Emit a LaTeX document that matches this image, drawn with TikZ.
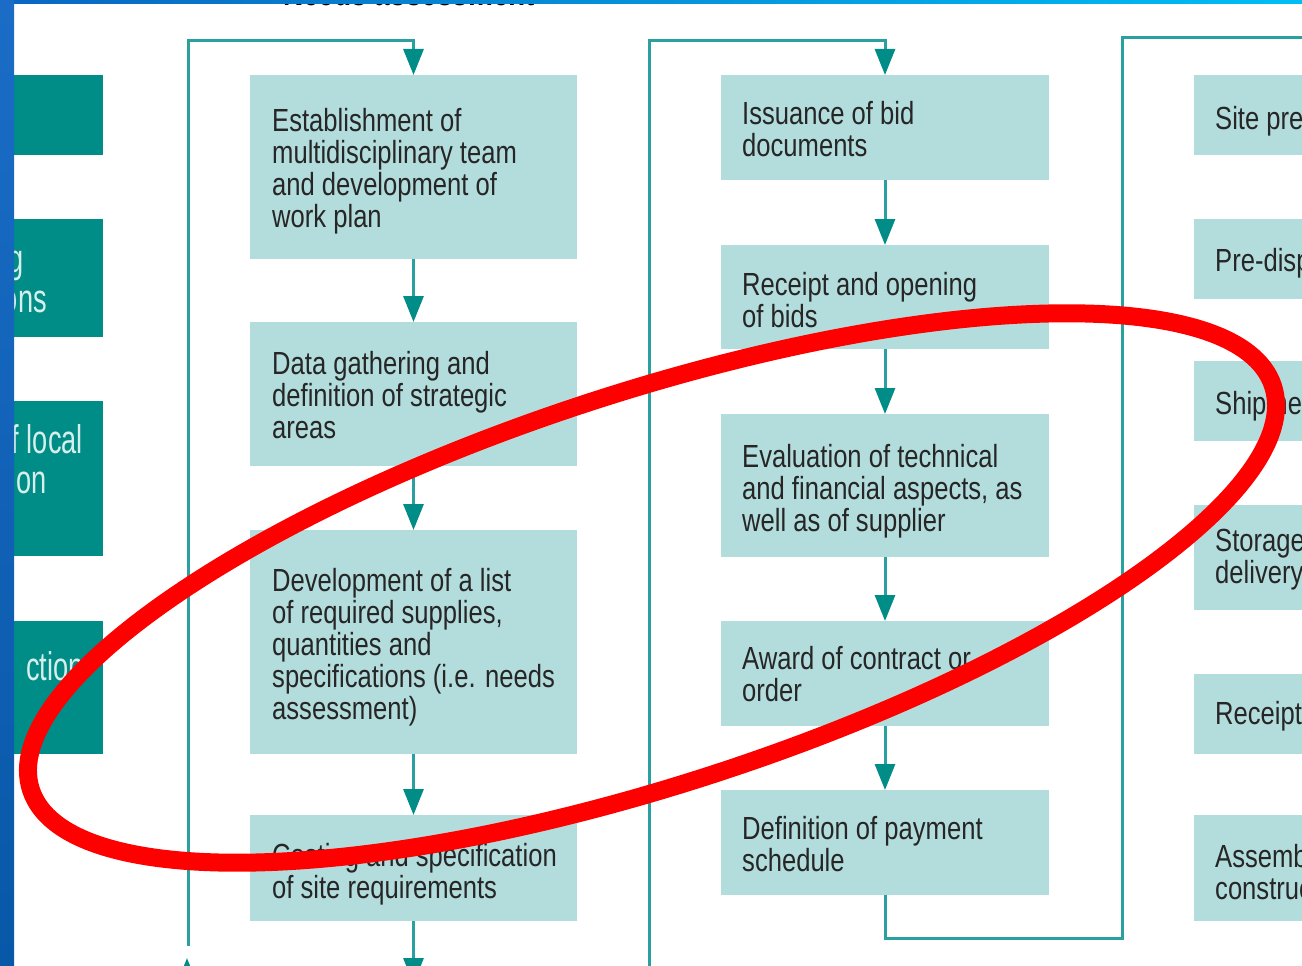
\documentclass[tikz,border=0pt]{standalone}
\usepackage{fontspec}
\setmainfont{Liberation Sans}
\newfontfamily\boxfont[FakeStretch=0.8]{Liberation Sans}
\newfontfamily\sidefont[FakeStretch=0.68]{Liberation Sans}
\usetikzlibrary{arrows.meta}

\definecolor{paleteal}{HTML}{B3DCDC}
\definecolor{deepteal}{HTML}{008C87}
\definecolor{flowline}{HTML}{2AA0A0}
\definecolor{ringred}{HTML}{FF0000}
\definecolor{barblueA}{HTML}{0A66C2}
\definecolor{barblueB}{HTML}{00BEF5}
\definecolor{sideblueA}{HTML}{1A6CC6}
\definecolor{sideblueB}{HTML}{0858A8}
\definecolor{inktext}{HTML}{262626}
\definecolor{sideink}{HTML}{D6EFEA}

\tikzset{
  stepbox/.style={fill=paleteal, draw=none, inner sep=0pt, outer sep=0pt, anchor=north west},
  sidebox/.style={fill=deepteal, draw=none, inner sep=0pt, outer sep=0pt, anchor=north west},
  steptext/.style={anchor=north west, inner sep=0pt, align=left, text=inktext,
    font=\boxfont\fontsize{32}{32}\selectfont},
  sidetext/.style={anchor=base east, inner sep=0pt, text=sideink,
    font=\sidefont\fontsize{40}{40}\selectfont},
  link/.style={draw=flowline, line width=3pt},
  flow/.style={link, -{Triangle[length=26pt, width=20pt, color=deepteal]}},
}

\begin{document}
\begin{tikzpicture}[x=1pt, y=-1pt]
\useasboundingbox (0,0) rectangle (1302,966);
\clip (0,0) rectangle (1302,966);
\fill[white] (0,0) rectangle (1302,966);

% heading line of the chart, mostly above the sheet
\node[anchor=base west, inner sep=0pt, text=black,
  font=\boxfont\bfseries\fontsize{35}{35}\selectfont] (heading) at (283,6) {Needs assessment};

% dark side panels on the far left
\node[sidebox, minimum width=103pt, minimum height=80pt]  (s1) at (0,75)  {};
\node[sidebox, minimum width=103pt, minimum height=118pt] (s2) at (0,219) {};
\node[sidebox, minimum width=103pt, minimum height=155pt] (s3) at (0,401) {};
\node[sidebox, minimum width=103pt, minimum height=133pt] (s4) at (0,621) {};
\node[sidetext] (s2a) at (24,272) {g};
\node[sidetext] (s2b) at (47,312) {ons};
\node[sidetext] (s3a) at (83,453) {f local};
\node[sidetext] (s3b) at (47,493) {on};
\node[sidetext] (s4a) at (84,680) {ction};

% first column of steps
\node[stepbox, minimum width=327pt, minimum height=184pt] (b1) at (250,75)  {};
\node[stepbox, minimum width=327pt, minimum height=144pt] (b2) at (250,322) {};
\node[stepbox, minimum width=327pt, minimum height=224pt] (b3) at (250,530) {};
\node[stepbox, minimum width=327pt, minimum height=106pt] (b4) at (250,815) {};
\node[steptext] (b1t) at (272,108.5) {Establishment of\\multidisciplinary team\\and development of\\work plan};
\node[steptext] (b2t) at (272,351.5) {Data gathering and\\definition of strategic\\areas};
\node[steptext] (b3t) at (272,568.5) {Development of a list\\of required supplies,\\quantities and\\specifications (i.e. needs\\assessment)};
\node[steptext] (b4t) at (272,843.5) {Costing and specification\\of site requirements};

% second column of steps
\node[stepbox, minimum width=328pt, minimum height=105pt] (c1) at (721,75)  {};
\node[stepbox, minimum width=328pt, minimum height=104pt] (c2) at (721,245) {};
\node[stepbox, minimum width=328pt, minimum height=143pt] (c3) at (721,414) {};
\node[stepbox, minimum width=328pt, minimum height=105pt] (c4) at (721,621) {};
\node[stepbox, minimum width=328pt, minimum height=105pt] (c5) at (721,790) {};
\node[steptext] (c1t) at (742,101.5) {Issuance of bid\\documents};
\node[steptext] (c2t) at (742,272.5) {Receipt and opening\\of bids};
\node[steptext] (c3t) at (742,444.5) {Evaluation of technical\\and financial aspects, as\\well as of supplier};
\node[steptext] (c4t) at (742,646.5) {Award of contract or\\order};
\node[steptext] (c5t) at (742,816.5) {Definition of payment\\schedule};

% third column of steps, running past the right edge
\node[stepbox, minimum width=328pt, minimum height=80pt]  (d1) at (1194,75)  {};
\node[stepbox, minimum width=328pt, minimum height=80pt]  (d2) at (1194,219) {};
\node[stepbox, minimum width=328pt, minimum height=80pt]  (d3) at (1194,361) {};
\node[stepbox, minimum width=328pt, minimum height=105pt] (d4) at (1194,505) {};
\node[stepbox, minimum width=328pt, minimum height=80pt]  (d5) at (1194,674) {};
\node[stepbox, minimum width=328pt, minimum height=106pt] (d6) at (1194,815) {};
\node[steptext] (d1t) at (1215,106.5) {Site prep};
\node[steptext] (d2t) at (1215,248.5) {Pre-dispa};
\node[steptext] (d3t) at (1215,391.5) {Shipmen};
\node[steptext] (d4t) at (1215,528.5) {Storage\\delivery};
\node[steptext] (d5t) at (1215,701.5) {Receipt};
\node[steptext] (d6t) at (1215,844.5) {Assemb\\construc};

% return paths and their end points
\coordinate (loop1) at (188,946);
\coordinate (loop1top) at (188,41);
\coordinate (rise1a) at (187,1000);
\coordinate (rise1b) at (187,958);
\coordinate (loop2) at (649,980);
\coordinate (loop2top) at (649,41);
\coordinate (drop5) at (1122,938);
\coordinate (over3) at (1340,38);
\coordinate (b4out) at (413.5,984);

% column one arrows
\draw[flow] (loop1) -- (loop1top) -| (b1.north);
\draw[flow] (rise1a) -- (rise1b);
\draw[flow] (b1.south) -- (b2.north);
\draw[flow] (b2.south) -- (b3.north);
\draw[flow] (b3.south) -- (b4.north);
\draw[flow] (b4.south) -- (b4out);

% column two arrows
\draw[flow] (loop2) -- (loop2top) -| (c1.north);
\draw[flow] (c1.south) -- (c2.north);
\draw[flow] (c2.south) -- (c3.north);
\draw[flow] (c3.south) -- (c4.north);
\draw[flow] (c4.south) -- (c5.north);
\draw[link, line join=miter] (c5.south) |- (drop5) |- (over3);

% red ring drawn over the chart
\begin{scope}[shift={(652,588)}, rotate=18]
  \draw[ringred, line width=18pt] (0,0) ellipse [x radius=653pt, y radius=196pt];
\end{scope}

% blue frame bars
\shade[left color=barblueA, right color=barblueB] (0,0) rectangle (1302,4);
\shade[top color=sideblueA, bottom color=sideblueB] (0,0) rectangle (14,966);
\end{tikzpicture}
\end{document}
